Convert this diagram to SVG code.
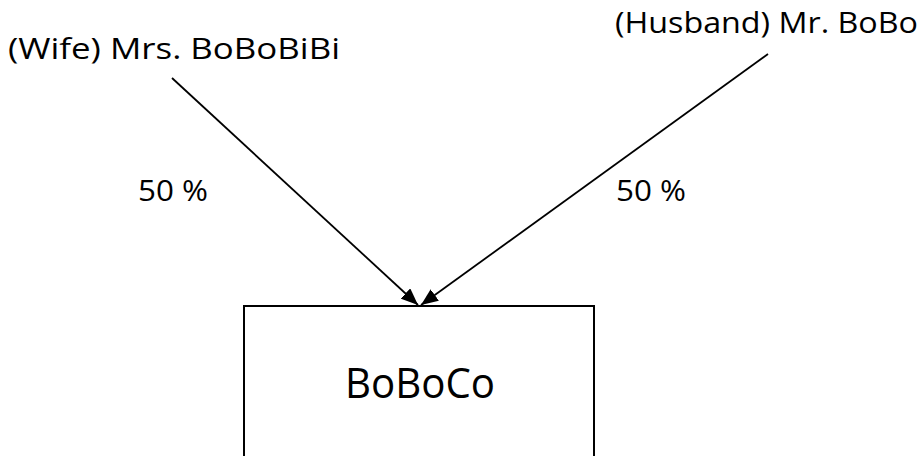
<svg xmlns="http://www.w3.org/2000/svg" width="923" height="456" viewBox="0 0 923 456">
  <style>
    .label { font-family: "Open Sans", "Liberation Sans", Arial, sans-serif; fill: #000; }
    .edge { stroke: #000; stroke-width: 1.8; fill: none; }
    .box { fill: #fff; stroke: #000; stroke-width: 2; }
  </style>
  <defs>
    <marker id="arrow" markerUnits="userSpaceOnUse" markerWidth="17" markerHeight="14" viewBox="0 0 17 14" refX="17" refY="7" orient="auto">
      <path d="M0,0 L17,7 L0,14 Z" fill="#000"/>
    </marker>
  </defs>
  <rect width="923" height="456" fill="#fff"/>

  <!-- owners -->
  <g id="wife">
    <text class="label" x="8" y="59" font-size="30" textLength="332" lengthAdjust="spacingAndGlyphs">(Wife) Mrs. BoBoBiBi</text>
  </g>
  <g id="husband">
    <text class="label" x="615" y="33" font-size="30" textLength="303" lengthAdjust="spacingAndGlyphs">(Husband) Mr. BoBo</text>
  </g>

  <!-- company -->
  <g id="boboco">
    <rect class="box" x="244" y="306" width="350" height="160"/>
    <text class="label" x="420" y="398" font-size="42" text-anchor="middle" textLength="150" lengthAdjust="spacingAndGlyphs">BoBoCo</text>
  </g>

  <!-- ownership connectors -->
  <g id="connectors">
    <line class="edge" x1="172" y1="78" x2="418" y2="305" marker-end="url(#arrow)"/>
    <line class="edge" x1="768" y1="54" x2="421" y2="305" marker-end="url(#arrow)"/>
    <text class="label" x="138" y="201" font-size="30" textLength="70" lengthAdjust="spacingAndGlyphs">50 %</text>
    <text class="label" x="616" y="201" font-size="30" textLength="70" lengthAdjust="spacingAndGlyphs">50 %</text>
  </g>
</svg>
